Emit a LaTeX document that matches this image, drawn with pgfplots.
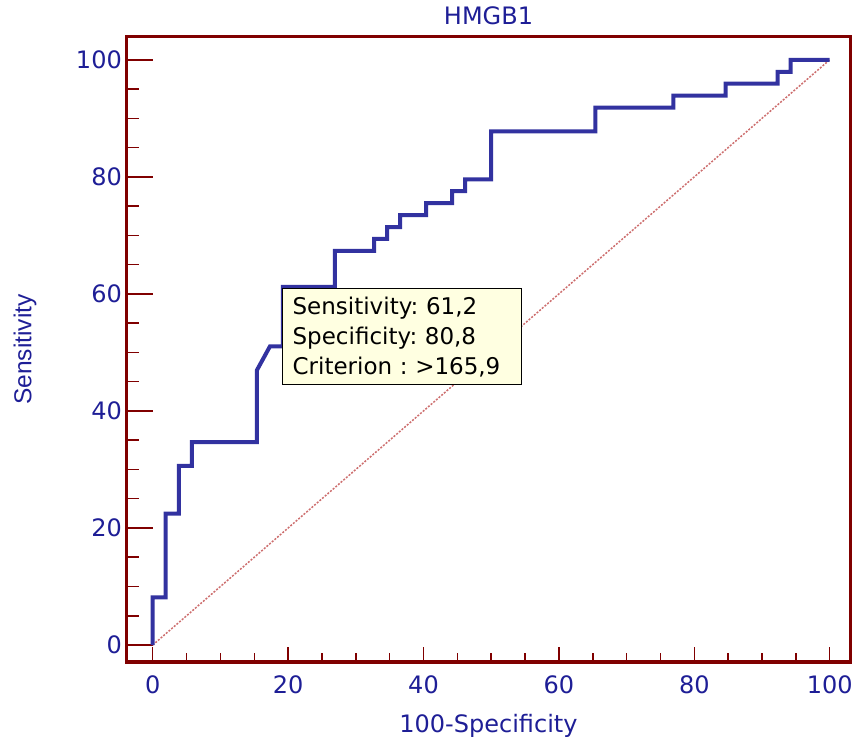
\documentclass[border=0pt]{standalone}
\usepackage{fontspec}
\setmainfont{DejaVu Sans}
\newfontfamily\labfont{Liberation Sans}
\newfontfamily\tipfont{DejaVu Sans}
\usepackage{pgfplots}
\pgfplotsset{compat=1.18}
\definecolor{spine}{RGB}{128,0,0}
\definecolor{txt}{RGB}{30,30,150}
\definecolor{curve}{RGB}{50,50,160}
\definecolor{diag}{RGB}{205,110,110}
\definecolor{tipbg}{RGB}{255,255,225}
\frenchspacing
\begin{document}
\begin{tikzpicture}
\begin{axis}[
  scale only axis, width=723pt, height=625pt,
  xmin=-3.8, xmax=103.0, ymin=-2.9, ymax=103.9,
  axis line style={spine, line width=3pt},
  tick align=inside, tick pos=left,
  xtick={0,20,...,100}, ytick={0,20,...,100},
  minor tick num=3,
  every tick/.style={spine, line width=1.5pt},
  xtick style={/pgfplots/major tick length=15pt,/pgfplots/minor tick length=9pt},
  ytick style={/pgfplots/major tick length=26pt,/pgfplots/minor tick length=12pt},
  /pgf/number format/assume math mode=true,
  tick label style={font=\fontsize{24}{28}\selectfont, text=txt, inner sep=0pt},
  xticklabel style={anchor=center, yshift=-23pt},
  yticklabel style={anchor=east, xshift=-5pt},
  xlabel={100-Specificity},
  ylabel={Sensitivity},
  xlabel style={at={(axis description cs:0.5,-0.112)}, anchor=base, font=\fontsize{24}{28}\selectfont, text=txt, inner sep=0pt},
  ylabel style={at={(axis description cs:-0.141,0.5)}, anchor=center, font=\labfont\fontsize{24.5}{28}\selectfont, text=txt, inner sep=0pt},
  clip=false,
]
\addplot[diag, line width=1.5pt, dash pattern=on 2pt off 1.5pt] coordinates {(0,0) (100,100)};
\addplot[curve, line width=4pt, line join=miter] coordinates {
(0,0) (0,8.16) (1.92,8.16) (1.92,22.45) (3.85,22.45) (3.85,30.61)
(5.77,30.61) (5.77,34.69) (15.38,34.69) (15.38,46.94) (17.31,51.02)
(19.23,51.02) (19.23,61.22) (26.92,61.22) (26.92,67.35) (32.69,67.35)
(32.69,69.39) (34.62,69.39) (34.62,71.43) (36.54,71.43) (36.54,73.47)
(40.38,73.47) (40.38,75.51) (44.23,75.51) (44.23,77.55) (46.15,77.55)
(46.15,79.59) (50.00,79.59) (50.00,87.76) (65.38,87.76) (65.38,91.84)
(76.92,91.84) (76.92,93.88) (84.62,93.88) (84.62,95.92) (92.31,95.92)
(92.31,97.96) (94.23,97.96) (94.23,100) (100,100)
};
\node[draw=black, line width=1.2pt, fill=tipbg, anchor=north west,
  inner xsep=10pt, inner ysep=8pt, text width=219pt, align=left,
  font=\tipfont\fontsize{23}{30}\selectfont, text=black]
  at (axis cs:19.1,61.0) {Sensitivity: 61,2\\Specificity: 80,8\\Criterion : >165,9};
\node[anchor=center, inner sep=0pt, text=txt, font=\fontsize{24}{28}\selectfont]
  at (axis description cs:0.5,1.0336) {HMGB1};
\end{axis}
\pgfresetboundingbox
\path ([shift={(-127pt,-80pt)}]current axis.south west) rectangle ([shift={(8pt,37pt)}]current axis.north east);
\end{tikzpicture}
\end{document}
